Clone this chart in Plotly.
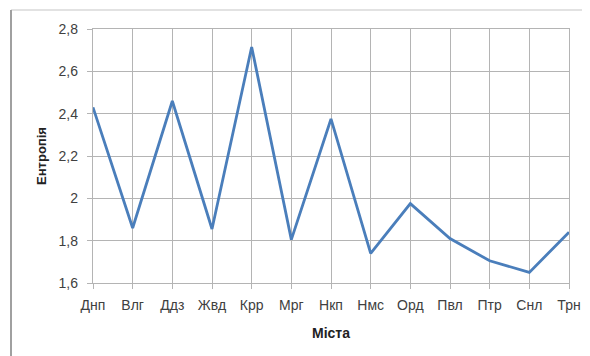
import plotly.graph_objects as go

cities = ["Днп", "Влг", "Ддз", "Жвд", "Крр", "Мрг", "Нкп", "Нмс", "Орд", "Пвл", "Птр", "Снл", "Трн"]
entropy = [2.43, 1.86, 2.46, 1.855, 2.715, 1.805, 2.375, 1.74, 1.975, 1.81, 1.705, 1.65, 1.84]
y_ticks = [1.6, 1.8, 2.0, 2.2, 2.4, 2.6, 2.8]
y_tick_labels = ["1,6", "1,8", "2", "2,2", "2,4", "2,6", "2,8"]

# page body has an 8px margin, so the figure is shrunk and shifted accordingly
OFF = 8
W, H = 590 - OFF, 356 - OFF
L, R, T, B = 93 - OFF, 21, 29 - OFF, 73

fig = go.Figure()
fig.add_trace(go.Scatter(
    x=list(range(len(cities))), y=entropy, mode="lines",
    line=dict(color="#4a7ebb", width=2.8), showlegend=False,
))

font = "Liberation Sans, Arial, sans-serif"
fig.update_layout(
    width=W, height=H,
    margin=dict(l=L, r=R, t=T, b=B, autoexpand=False),
    paper_bgcolor="white", plot_bgcolor="white",
    font=dict(family=font, size=14, color="#404040"),
    xaxis=dict(
        tickmode="array", tickvals=list(range(len(cities))), ticktext=cities,
        range=[0, len(cities) - 1], showgrid=True, gridcolor="#b4b4b4", gridwidth=1.4,
        zeroline=False, showline=True, linecolor="#b4b4b4", linewidth=1.4, mirror=True,
        ticks="outside", ticklen=5, tickcolor="#b4b4b4", tickwidth=1.4,
        ticklabelstandoff=4, automargin=False,
        title=dict(text="<b>Міста</b>", font=dict(size=14, color="#222"), standoff=16),
    ),
    yaxis=dict(
        tickmode="array", tickvals=y_ticks, ticktext=y_tick_labels,
        range=[1.6, 2.8], showgrid=True, gridcolor="#b4b4b4", gridwidth=1.4,
        zeroline=False, showline=True, linecolor="#b4b4b4", linewidth=1.4, mirror=True,
        ticks="outside", ticklen=5, tickcolor="#b4b4b4", tickwidth=1.4,
        ticklabelstandoff=6, automargin=False,
        title=dict(text="<b>Ентропія</b>", font=dict(size=13, color="#222"), standoff=8),
    ),
    shapes=[
        dict(type="line", xref="paper", yref="paper",
             x0=(11 - 93) / (W - L - R), x1=1.1,
             y0=(283 - 10) / (H - T - B), y1=(283 - 10) / (H - T - B),
             line=dict(color="#d9d9d9", width=1.5)),
        dict(type="line", xref="paper", yref="paper",
             x0=(11 - 93) / (W - L - R), x1=(11 - 93) / (W - L - R),
             y0=-0.5, y1=(283 - 10) / (H - T - B),
             line=dict(color="#a0a0a0", width=2)),
    ],
)

fig.write_html("out.html")
